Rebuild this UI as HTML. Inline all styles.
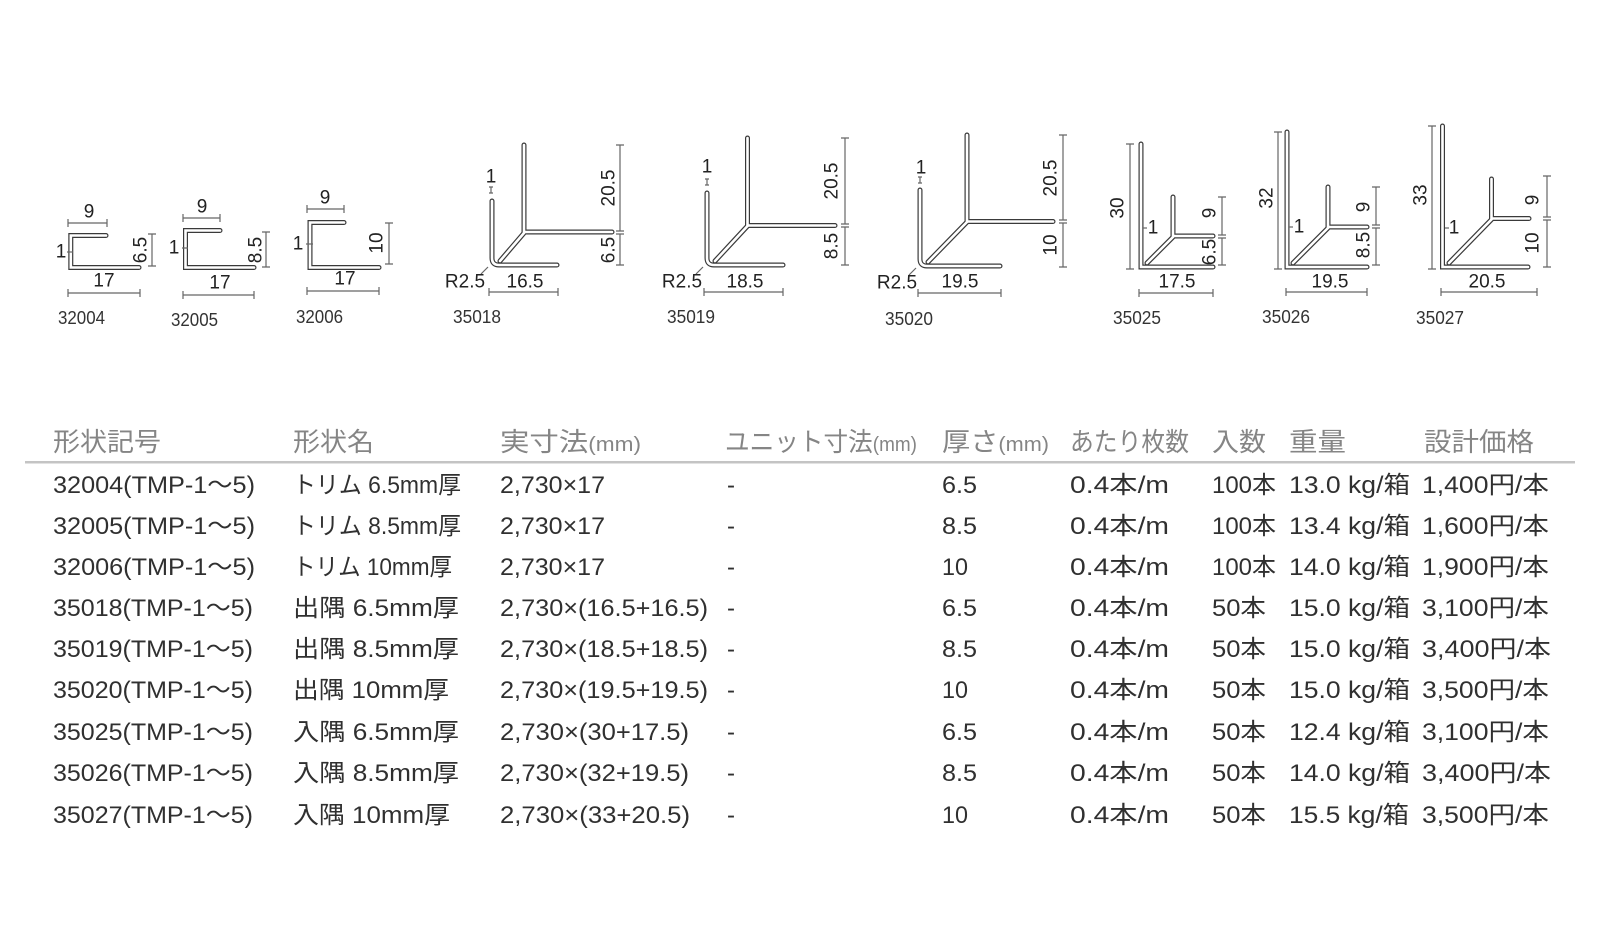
<!DOCTYPE html>
<html><head><meta charset="utf-8"><style>
html,body{margin:0;padding:0;background:#fff;}
svg{display:block;}
text{font-family:"Liberation Sans","Noto Sans CJK JP",sans-serif;}
</style></head><body>
<svg width="1600" height="930" viewBox="0 0 1600 930" xmlns="http://www.w3.org/2000/svg">
<rect width="1600" height="930" fill="#fff"/>
<defs>
<g id="prof">
<path d="M106,235.5 H70.8 V267.5 H139"/>
<path d="M220,230.5 H185.5 V267.5 H254"/>
<path d="M344,222.5 H310 V267.5 H379"/>
<path d="M492,201 V258 Q492,265 499,265 H557"/>
<path d="M500,261 L524,233"/>
<path d="M524,145 V232 H612"/>
<path d="M707,193 V258 Q707,265 714,265 H783"/>
<path d="M715,261 L747.5,226"/>
<path d="M747.5,138 V225.5 H835"/>
<path d="M920,190 V259 Q920,266 927,266 H1000"/>
<path d="M928,262 L967,222"/>
<path d="M967,135 V221.5 H1053"/>
<path d="M1141,144 V267 H1213"/>
<path d="M1147,263 L1173,237"/>
<path d="M1173,197 V236 H1213"/>
<path d="M1287,132 V267 H1367"/>
<path d="M1293,263 L1328,228"/>
<path d="M1328,187 V227 H1367"/>
<path d="M1442.5,126 V267 H1528"/>
<path d="M1449,263 L1491.5,219.5"/>
<path d="M1491.5,179 V218.5 H1529"/>
</g>
</defs>
<g fill="none" stroke-linejoin="miter" stroke-linecap="round">
<use href="#prof" stroke="#3a3a3a" stroke-width="5"/>
<use href="#prof" stroke="#ffffff" stroke-width="2.6"/>
</g>

<!-- dimension lines -->
<g stroke="#666" stroke-width="1.2" fill="none">
<!-- 32004 -->
<path d="M68,223 H107 M68,219 V227 M107,219 V227"/>
<path d="M152,234 V266 M148,234 H156 M148,266 H156"/>
<path d="M68,293 H140 M68,289 V297 M140,289 V297"/>
<path d="M67,252 H73"/>
<!-- 32005 -->
<path d="M183,218 H220 M183,214 V222 M220,214 V222"/>
<path d="M266,232 V267 M262,232 H270 M262,267 H270"/>
<path d="M183,295 H254 M183,291 V299 M254,291 V299"/>
<path d="M182,248 H188"/>
<!-- 32006 -->
<path d="M307,209 H344 M307,205 V213 M344,205 V213"/>
<path d="M389,223 V264 M385,223 H393 M385,264 H393"/>
<path d="M307,291 H379 M307,287 V295 M379,287 V295"/>
<path d="M306,244 H313"/>
<!-- 35018 -->
<path d="M491,187 V193 M489,187 H493 M489,193 H493"/>
<path d="M620,145 V231 M616,145 H624 M616,231 H624"/>
<path d="M620,234 V265 M616,234 H624 M616,265 H624"/>
<path d="M488,267 L481,274"/>
<path d="M489,292 H558 M489,288 V296 M558,288 V296"/>
<!-- 35019 -->
<path d="M707,179 V185 M705,179 H709 M705,185 H709"/>
<path d="M845,138 V224 M841,138 H849 M841,224 H849"/>
<path d="M845,227 V265 M841,227 H849 M841,265 H849"/>
<path d="M703,267 L696,274"/>
<path d="M704,292 H783 M704,288 V296 M783,288 V296"/>
<!-- 35020 -->
<path d="M920,177 V183 M918,177 H922 M918,183 H922"/>
<path d="M1063,135 V220 M1059,135 H1067 M1059,220 H1067"/>
<path d="M1063,223 V267 M1059,223 H1067 M1059,267 H1067"/>
<path d="M916,268 L909,275"/>
<path d="M918,293 H1001 M918,289 V297 M1001,289 V297"/>
<!-- 35025 -->
<path d="M1130,144 V269 M1126,144 H1134 M1126,269 H1134"/>
<path d="M1222,197 V235 M1218,197 H1226 M1218,235 H1226"/>
<path d="M1222,238 V265 M1218,238 H1226 M1218,265 H1226"/>
<path d="M1143,228 H1147"/>
<path d="M1139,293 H1213 M1139,289 V297 M1213,289 V297"/>
<!-- 35026 -->
<path d="M1278,132 V269 M1274,132 H1282 M1274,269 H1282"/>
<path d="M1376,187 V225 M1372,187 H1380 M1372,225 H1380"/>
<path d="M1376,228 V265 M1372,228 H1380 M1372,265 H1380"/>
<path d="M1289,227 H1293"/>
<path d="M1286,292 H1367 M1286,288 V296 M1367,288 V296"/>
<!-- 35027 -->
<path d="M1432,126 V269 M1428,126 H1436 M1428,269 H1436"/>
<path d="M1547,176 V217 M1543,176 H1551 M1543,217 H1551"/>
<path d="M1547,220 V267 M1543,220 H1551 M1543,267 H1551"/>
<path d="M1445,228 H1449"/>
<path d="M1441,292 H1537 M1441,288 V296 M1537,288 V296"/>
</g>

<!-- dimension text -->
<g font-size="19" fill="#222" text-anchor="middle" dominant-baseline="central">
<text x="89" y="212">9</text>
<text x="61" y="252">1</text>
<text x="141" y="250" transform="rotate(-90 141 250)">6.5</text>
<text x="104" y="281">17</text>

<text x="202" y="207">9</text>
<text x="174" y="248">1</text>
<text x="256" y="250" transform="rotate(-90 256 250)">8.5</text>
<text x="220" y="283">17</text>

<text x="325" y="198">9</text>
<text x="298" y="244">1</text>
<text x="377" y="243" transform="rotate(-90 377 243)">10</text>
<text x="345" y="279">17</text>

<text x="491" y="177">1</text>
<text x="609" y="188" transform="rotate(-90 609 188)">20.5</text>
<text x="609" y="250" transform="rotate(-90 609 250)">6.5</text>
<text x="465" y="282">R2.5</text>
<text x="525" y="282">16.5</text>

<text x="707" y="167">1</text>
<text x="832" y="181" transform="rotate(-90 832 181)">20.5</text>
<text x="832" y="246" transform="rotate(-90 832 246)">8.5</text>
<text x="682" y="282">R2.5</text>
<text x="745" y="282">18.5</text>

<text x="921" y="168">1</text>
<text x="1051" y="178" transform="rotate(-90 1051 178)">20.5</text>
<text x="1051" y="245" transform="rotate(-90 1051 245)">10</text>
<text x="897" y="283">R2.5</text>
<text x="960" y="282">19.5</text>

<text x="1118" y="208" transform="rotate(-90 1118 208)">30</text>
<text x="1153" y="228">1</text>
<text x="1210" y="213" transform="rotate(-90 1210 213)">9</text>
<text x="1210" y="252" transform="rotate(-90 1210 252)">6.5</text>
<text x="1177" y="282">17.5</text>

<text x="1267" y="198" transform="rotate(-90 1267 198)">32</text>
<text x="1299" y="227">1</text>
<text x="1364" y="207" transform="rotate(-90 1364 207)">9</text>
<text x="1364" y="245" transform="rotate(-90 1364 245)">8.5</text>
<text x="1330" y="282">19.5</text>

<text x="1421" y="195" transform="rotate(-90 1421 195)">33</text>
<text x="1454" y="228">1</text>
<text x="1533" y="200" transform="rotate(-90 1533 200)">9</text>
<text x="1533" y="243" transform="rotate(-90 1533 243)">10</text>
<text x="1487" y="282">20.5</text>
</g>

<!-- profile labels -->
<g font-size="18.5" fill="#333">
<text x="58" y="324" textLength="47" lengthAdjust="spacingAndGlyphs">32004</text>
<text x="171" y="326" textLength="47" lengthAdjust="spacingAndGlyphs">32005</text>
<text x="296" y="323" textLength="47" lengthAdjust="spacingAndGlyphs">32006</text>
<text x="453" y="323" textLength="48" lengthAdjust="spacingAndGlyphs">35018</text>
<text x="667" y="323" textLength="48" lengthAdjust="spacingAndGlyphs">35019</text>
<text x="885" y="325" textLength="48" lengthAdjust="spacingAndGlyphs">35020</text>
<text x="1113" y="324" textLength="48" lengthAdjust="spacingAndGlyphs">35025</text>
<text x="1262" y="323" textLength="48" lengthAdjust="spacingAndGlyphs">35026</text>
<text x="1416" y="324" textLength="48" lengthAdjust="spacingAndGlyphs">35027</text>
</g>

<!-- table header -->
<g font-size="26" fill="#858585">
<text x="53" y="451" textLength="108" lengthAdjust="spacingAndGlyphs">形状記号</text>
<text x="293" y="451" textLength="81" lengthAdjust="spacingAndGlyphs">形状名</text>
<text x="500" y="451" textLength="141" lengthAdjust="spacingAndGlyphs">実寸法<tspan font-size="20">(mm)</tspan></text>
<text x="725" y="451" textLength="192" lengthAdjust="spacingAndGlyphs">ユニット寸法<tspan font-size="20">(mm)</tspan></text>
<text x="942" y="451" textLength="107" lengthAdjust="spacingAndGlyphs">厚さ<tspan font-size="20">(mm)</tspan></text>
<text x="1070" y="451" textLength="119" lengthAdjust="spacingAndGlyphs">あたり枚数</text>
<text x="1212" y="451" textLength="54" lengthAdjust="spacingAndGlyphs">入数</text>
<text x="1289" y="451" textLength="57" lengthAdjust="spacingAndGlyphs">重量</text>
<text x="1424" y="451" textLength="110" lengthAdjust="spacingAndGlyphs">設計価格</text>
</g>
<rect x="25" y="461" width="1550" height="2.5" fill="#c4c4c4"/>

<!-- table rows -->
<g font-size="24" fill="#303030">
<!-- row 1 -->
<text x="53" y="493" textLength="202" lengthAdjust="spacingAndGlyphs">32004(TMP-1〜5)</text>
<text x="293" y="493" textLength="168" lengthAdjust="spacingAndGlyphs">トリム 6.5mm厚</text>
<text x="500" y="493" textLength="105" lengthAdjust="spacingAndGlyphs">2,730×17</text>
<text x="727" y="493">-</text>
<text x="942" y="493" textLength="35" lengthAdjust="spacingAndGlyphs">6.5</text>
<text x="1070" y="493" textLength="99" lengthAdjust="spacingAndGlyphs">0.4本/m</text>
<text x="1212" y="493" textLength="64" lengthAdjust="spacingAndGlyphs">100本</text>
<text x="1289" y="493" textLength="121" lengthAdjust="spacingAndGlyphs">13.0 kg/箱</text>
<text x="1422" y="493" textLength="127" lengthAdjust="spacingAndGlyphs">1,400円/本</text>
<!-- row 2 -->
<text x="53" y="534" textLength="202" lengthAdjust="spacingAndGlyphs">32005(TMP-1〜5)</text>
<text x="293" y="534" textLength="168" lengthAdjust="spacingAndGlyphs">トリム 8.5mm厚</text>
<text x="500" y="534" textLength="105" lengthAdjust="spacingAndGlyphs">2,730×17</text>
<text x="727" y="534">-</text>
<text x="942" y="534" textLength="35" lengthAdjust="spacingAndGlyphs">8.5</text>
<text x="1070" y="534" textLength="99" lengthAdjust="spacingAndGlyphs">0.4本/m</text>
<text x="1212" y="534" textLength="64" lengthAdjust="spacingAndGlyphs">100本</text>
<text x="1289" y="534" textLength="121" lengthAdjust="spacingAndGlyphs">13.4 kg/箱</text>
<text x="1422" y="534" textLength="127" lengthAdjust="spacingAndGlyphs">1,600円/本</text>
<!-- row 3 -->
<text x="53" y="575" textLength="202" lengthAdjust="spacingAndGlyphs">32006(TMP-1〜5)</text>
<text x="293" y="575" textLength="159" lengthAdjust="spacingAndGlyphs">トリム 10mm厚</text>
<text x="500" y="575" textLength="105" lengthAdjust="spacingAndGlyphs">2,730×17</text>
<text x="727" y="575">-</text>
<text x="942" y="575" textLength="26" lengthAdjust="spacingAndGlyphs">10</text>
<text x="1070" y="575" textLength="99" lengthAdjust="spacingAndGlyphs">0.4本/m</text>
<text x="1212" y="575" textLength="64" lengthAdjust="spacingAndGlyphs">100本</text>
<text x="1289" y="575" textLength="121" lengthAdjust="spacingAndGlyphs">14.0 kg/箱</text>
<text x="1422" y="575" textLength="127" lengthAdjust="spacingAndGlyphs">1,900円/本</text>
<!-- row 4 -->
<text x="53" y="616" textLength="200" lengthAdjust="spacingAndGlyphs">35018(TMP-1〜5)</text>
<text x="293" y="616" textLength="166" lengthAdjust="spacingAndGlyphs">出隅 6.5mm厚</text>
<text x="500" y="616" textLength="208" lengthAdjust="spacingAndGlyphs">2,730×(16.5+16.5)</text>
<text x="727" y="616">-</text>
<text x="942" y="616" textLength="35" lengthAdjust="spacingAndGlyphs">6.5</text>
<text x="1070" y="616" textLength="99" lengthAdjust="spacingAndGlyphs">0.4本/m</text>
<text x="1212" y="616" textLength="54" lengthAdjust="spacingAndGlyphs">50本</text>
<text x="1289" y="616" textLength="121" lengthAdjust="spacingAndGlyphs">15.0 kg/箱</text>
<text x="1422" y="616" textLength="127" lengthAdjust="spacingAndGlyphs">3,100円/本</text>
<!-- row 5 -->
<text x="53" y="657" textLength="200" lengthAdjust="spacingAndGlyphs">35019(TMP-1〜5)</text>
<text x="293" y="657" textLength="166" lengthAdjust="spacingAndGlyphs">出隅 8.5mm厚</text>
<text x="500" y="657" textLength="208" lengthAdjust="spacingAndGlyphs">2,730×(18.5+18.5)</text>
<text x="727" y="657">-</text>
<text x="942" y="657" textLength="35" lengthAdjust="spacingAndGlyphs">8.5</text>
<text x="1070" y="657" textLength="99" lengthAdjust="spacingAndGlyphs">0.4本/m</text>
<text x="1212" y="657" textLength="54" lengthAdjust="spacingAndGlyphs">50本</text>
<text x="1289" y="657" textLength="121" lengthAdjust="spacingAndGlyphs">15.0 kg/箱</text>
<text x="1422" y="657" textLength="129" lengthAdjust="spacingAndGlyphs">3,400円/本</text>
<!-- row 6 -->
<text x="53" y="698" textLength="200" lengthAdjust="spacingAndGlyphs">35020(TMP-1〜5)</text>
<text x="293" y="698" textLength="156" lengthAdjust="spacingAndGlyphs">出隅 10mm厚</text>
<text x="500" y="698" textLength="208" lengthAdjust="spacingAndGlyphs">2,730×(19.5+19.5)</text>
<text x="727" y="698">-</text>
<text x="942" y="698" textLength="26" lengthAdjust="spacingAndGlyphs">10</text>
<text x="1070" y="698" textLength="99" lengthAdjust="spacingAndGlyphs">0.4本/m</text>
<text x="1212" y="698" textLength="54" lengthAdjust="spacingAndGlyphs">50本</text>
<text x="1289" y="698" textLength="121" lengthAdjust="spacingAndGlyphs">15.0 kg/箱</text>
<text x="1422" y="698" textLength="127" lengthAdjust="spacingAndGlyphs">3,500円/本</text>
<!-- row 7 -->
<text x="53" y="740" textLength="200" lengthAdjust="spacingAndGlyphs">35025(TMP-1〜5)</text>
<text x="293" y="740" textLength="166" lengthAdjust="spacingAndGlyphs">入隅 6.5mm厚</text>
<text x="500" y="740" textLength="189" lengthAdjust="spacingAndGlyphs">2,730×(30+17.5)</text>
<text x="727" y="740">-</text>
<text x="942" y="740" textLength="35" lengthAdjust="spacingAndGlyphs">6.5</text>
<text x="1070" y="740" textLength="99" lengthAdjust="spacingAndGlyphs">0.4本/m</text>
<text x="1212" y="740" textLength="54" lengthAdjust="spacingAndGlyphs">50本</text>
<text x="1289" y="740" textLength="121" lengthAdjust="spacingAndGlyphs">12.4 kg/箱</text>
<text x="1422" y="740" textLength="127" lengthAdjust="spacingAndGlyphs">3,100円/本</text>
<!-- row 8 -->
<text x="53" y="781" textLength="200" lengthAdjust="spacingAndGlyphs">35026(TMP-1〜5)</text>
<text x="293" y="781" textLength="166" lengthAdjust="spacingAndGlyphs">入隅 8.5mm厚</text>
<text x="500" y="781" textLength="189" lengthAdjust="spacingAndGlyphs">2,730×(32+19.5)</text>
<text x="727" y="781">-</text>
<text x="942" y="781" textLength="35" lengthAdjust="spacingAndGlyphs">8.5</text>
<text x="1070" y="781" textLength="99" lengthAdjust="spacingAndGlyphs">0.4本/m</text>
<text x="1212" y="781" textLength="54" lengthAdjust="spacingAndGlyphs">50本</text>
<text x="1289" y="781" textLength="121" lengthAdjust="spacingAndGlyphs">14.0 kg/箱</text>
<text x="1422" y="781" textLength="129" lengthAdjust="spacingAndGlyphs">3,400円/本</text>
<!-- row 9 -->
<text x="53" y="823" textLength="200" lengthAdjust="spacingAndGlyphs">35027(TMP-1〜5)</text>
<text x="293" y="823" textLength="157" lengthAdjust="spacingAndGlyphs">入隅 10mm厚</text>
<text x="500" y="823" textLength="190" lengthAdjust="spacingAndGlyphs">2,730×(33+20.5)</text>
<text x="727" y="823">-</text>
<text x="942" y="823" textLength="26" lengthAdjust="spacingAndGlyphs">10</text>
<text x="1070" y="823" textLength="99" lengthAdjust="spacingAndGlyphs">0.4本/m</text>
<text x="1212" y="823" textLength="54" lengthAdjust="spacingAndGlyphs">50本</text>
<text x="1289" y="823" textLength="120" lengthAdjust="spacingAndGlyphs">15.5 kg/箱</text>
<text x="1422" y="823" textLength="127" lengthAdjust="spacingAndGlyphs">3,500円/本</text>
</g>
</svg>
</body></html>
